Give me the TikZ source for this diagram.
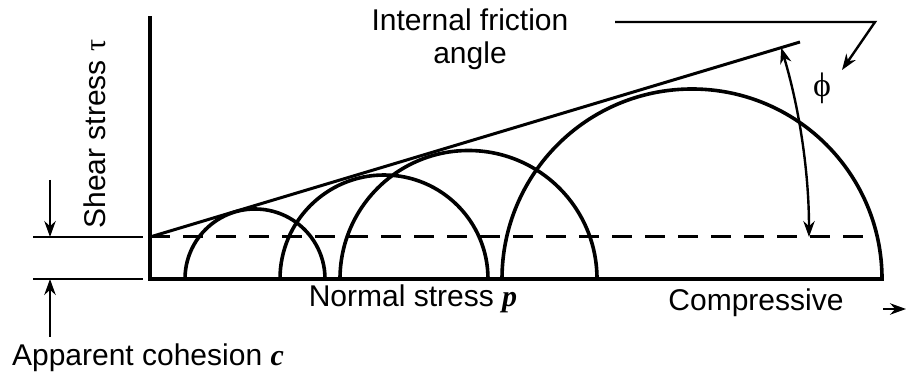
\documentclass[tikz,border=0pt]{standalone}
\usepackage{fontspec}
\setmainfont{Liberation Sans}
\newfontfamily\seriffont{Liberation Serif}
\usetikzlibrary{arrows.meta, positioning}

\begin{document}
\begin{tikzpicture}[
    x=0.5pt, y=0.5pt,
    ax/.style={line width=1.8pt, line cap=rect},
    mohr/.style={line width=1.8pt},
    env/.style={line width=1.5pt},
    cut/.style={line width=1.5pt, dash pattern=on 10pt off 6.5pt},
    thin/.style={line width=1.1pt},
    arr/.style={-{Stealth[length=2.8mm, width=2mm]}, line width=1.2pt},
    dbl/.style={{Stealth[length=2.8mm, width=2mm]}-{Stealth[length=2.8mm, width=2mm]}, line width=1.2pt},
    lbl/.style={font=\fontsize{15}{16.5}\selectfont, inner sep=0pt, align=center}
  ]
    \useasboundingbox (0,0) rectangle (909,379);

    % axes and cohesion level
    \coordinate (o) at (150,100);
    \coordinate (top) at (150,361);
    \coordinate (xend) at (882,100);
    \coordinate (c0) at (150,142);
    \coordinate (cend) at (876,142);
    \coordinate (envend) at (800,337);
    \draw[ax] (top) -- (o) -- (xend);
    \draw[cut] (c0) -- (cend);
    \draw[env] (c0) -- (envend);

    % Mohr circles
    \draw[mohr] (185,100) arc[start angle=180, end angle=0, radius=70];
    \draw[mohr] (280,100) arc[start angle=180, end angle=0, radius=104];
    \draw[mohr] (340,100) arc[start angle=180, end angle=0, radius=128.5];
    \draw[mohr] (502,100) arc[start angle=180, end angle=0, radius=190];

    % apparent cohesion marks
    \coordinate (cl) at (33,142);
    \coordinate (cr) at (143,142);
    \coordinate (bl) at (33,100);
    \coordinate (br) at (143,100);
    \coordinate (adn) at (50,199);
    \coordinate (aup) at (50,42);
    \draw[thin] (cl) -- (cr);
    \draw[thin] (bl) -- (br);
    \draw[arr] (adn) -- (50,142);
    \draw[arr] (aup) -- (50,100);

    % friction angle
    \coordinate (phi0) at (809,142);
    \draw[dbl] (phi0) arc[start angle=0, end angle=16.7, radius=659];
    \coordinate (ld1) at (615,357);
    \coordinate (ld2) at (875,357);
    \coordinate (ld3) at (842,309);
    \draw[arr] (ld1) -- (ld2) -- (ld3);
    \node[lbl] (phi) at (822,291) {\seriffont\fontsize{17}{17}\selectfont ϕ};

    % labels
    \node[lbl] (ifa) at (470,340) {Internal friction\\angle};
    \node[lbl, rotate=90] (tau) at (95,245) {Shear stress {\seriffont τ}};
    \node[lbl] (coh) at (148,21) {Apparent cohesion {\seriffont\bfseries\itshape c}};
    \node[lbl] (nrm) at (413,80) {Normal stress {\seriffont\bfseries\itshape p}};
    \node[lbl] (cmp) at (756,76) {Compressive};
    \coordinate (ra) at (883,70);
    \coordinate (rb) at (906,70);
    \draw[arr] (ra) -- (rb);
  \end{tikzpicture}
\end{document}
